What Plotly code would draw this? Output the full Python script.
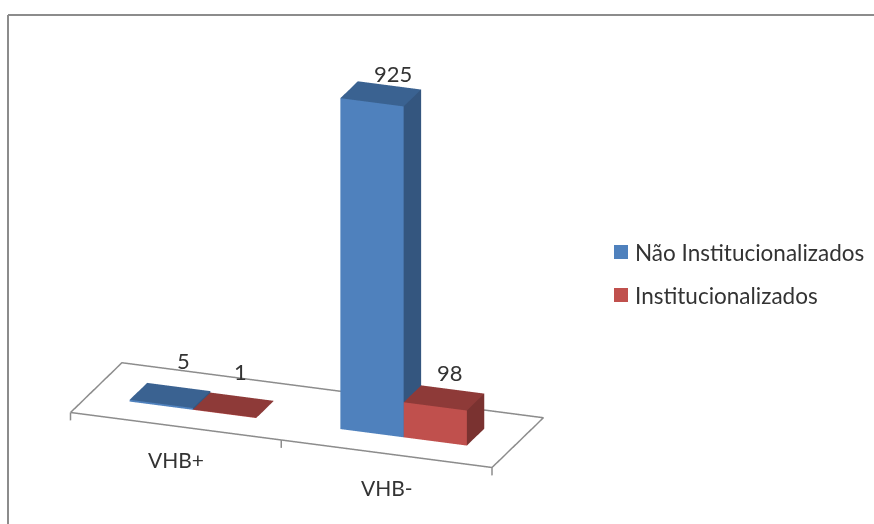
import plotly.graph_objects as go

# Chart data
categories = ["VHB+", "VHB-"]
series_names = ["Não Institucionalizados", "Institucionalizados"]
nao_institucionalizados = [5, 925]
institucionalizados = [1, 98]

# Face colours of each series: front, side, top
BLUE = ["#4F81BD", "#34567F", "#3A6291"]
RED = ["#C0504D", "#7A3230", "#8E3A38"]
GREY = "#8C8C8C"
TEXT = "#333333"
FONT = "Lato"

BAR_WIDTH = 0.3
MARGIN = 0.2
DEPTH = (0.33, 0.67)
TICK = -22
Z_TOP = 945

# Pixel nudges of the value labels, keyed by (category, series)
LABEL_NUDGE = {
    (0, 0): (13, 19),
    (0, 1): (7, 18),
    (1, 0): (12, 5),
    (1, 1): (6, 10),
}


def bar(x0, value, colors, name):
    """One 3D column with its front, side and top faces."""
    x1 = x0 + BAR_WIDTH
    y0, y1 = DEPTH
    xs = [x0, x1, x1, x0, x0, x1, x1, x0]
    ys = [y0, y0, y1, y1, y0, y0, y1, y1]
    zs = [0, 0, 0, 0, value, value, value, value]
    i = [0, 0, 1, 1, 4, 4]
    j = [1, 5, 2, 6, 5, 6]
    k = [5, 4, 6, 5, 6, 7]
    front, side, top = colors
    return go.Mesh3d(
        x=xs, y=ys, z=zs, i=i, j=j, k=k,
        facecolor=[front, front, side, side, top, top],
        flatshading=True,
        lighting=dict(ambient=1, diffuse=0, specular=0, roughness=1, fresnel=0),
        hoverinfo="skip", name=name, showscale=False,
    )


fig = go.Figure()

# Floor outline and category ticks
n = len(categories)
fig.add_trace(go.Scatter3d(
    x=[0, n, n, 0, 0], y=[0, 0, 1, 1, 0], z=[0] * 5,
    mode="lines", line=dict(color=GREY, width=3), hoverinfo="skip", showlegend=False,
))
for t in range(n + 1):
    fig.add_trace(go.Scatter3d(
        x=[t, t], y=[0, 0], z=[0, TICK],
        mode="lines", line=dict(color=GREY, width=3), hoverinfo="skip", showlegend=False,
    ))

annotations3d = []
for c, name in enumerate(categories):
    x_blue = c + MARGIN
    x_red = x_blue + BAR_WIDTH
    v_blue = nao_institucionalizados[c]
    v_red = institucionalizados[c]
    fig.add_trace(bar(x_blue, v_blue, BLUE, series_names[0]))
    fig.add_trace(bar(x_red, v_red, RED, series_names[1]))
    for s, (x, v) in enumerate(((x_blue, v_blue), (x_red, v_red))):
        dx, dy = LABEL_NUDGE[(c, s)]
        annotations3d.append(dict(
            x=x + BAR_WIDTH / 2, y=sum(DEPTH) / 2, z=v, text=str(v), showarrow=False,
            yanchor="bottom", xshift=dx, yshift=dy, font=dict(family=FONT, size=22, color=TEXT),
        ))
    annotations3d.append(dict(
        x=c + 0.5, y=0, z=0, text=name, showarrow=False,
        yanchor="top", yshift=-19, font=dict(family=FONT, size=21, color=TEXT),
    ))

hidden = dict(visible=False, showgrid=False, zeroline=False, showspikes=False)
fig.update_layout(
    width=874, height=524,
    margin=dict(l=0, r=0, t=0, b=0),
    paper_bgcolor="white",
    showlegend=False,
    scene=dict(
        domain=dict(x=[0, 614 / 874], y=[10 / 524, 1]),
        xaxis=dict(hidden, range=[0, n]),
        yaxis=dict(hidden, range=[0, 1]),
        zaxis=dict(hidden, range=[TICK, Z_TOP]),
        aspectmode="manual",
        aspectratio=dict(x=1.747, y=0.58, z=1.44),
        bgcolor="rgba(0,0,0,0)",
        camera=dict(
            eye=dict(x=0.424, y=-1.155, z=0.439),
            center=dict(x=0, y=0, z=-0.029),
            up=dict(x=0, y=0, z=1),
            projection=dict(type="orthographic"),
        ),
        annotations=annotations3d,
    ),
    shapes=[
        dict(type="line", xref="paper", yref="paper", x0=8 / 874, x1=1, y0=1 - 15 / 524, y1=1 - 15 / 524,
             line=dict(color=GREY, width=2)),
        dict(type="line", xref="paper", yref="paper", x0=8 / 874, x1=8 / 874, y0=0, y1=1 - 15 / 524,
             line=dict(color=GREY, width=2)),
        dict(type="rect", xref="paper", yref="paper", x0=614 / 874, x1=628 / 874,
             y0=1 - 259 / 524, y1=1 - 245 / 524, fillcolor=BLUE[0], line=dict(width=0)),
        dict(type="rect", xref="paper", yref="paper", x0=614 / 874, x1=628 / 874,
             y0=1 - 302 / 524, y1=1 - 288 / 524, fillcolor=RED[0], line=dict(width=0)),
    ],
    annotations=[
        dict(xref="paper", yref="paper", x=633 / 874, y=1 - 252 / 524, text=series_names[0], showarrow=False,
             xanchor="left", yanchor="middle", font=dict(family=FONT, size=22.5, color=TEXT)),
        dict(xref="paper", yref="paper", x=633 / 874, y=1 - 295 / 524, text=series_names[1], showarrow=False,
             xanchor="left", yanchor="middle", font=dict(family=FONT, size=22.5, color=TEXT)),
    ],
)

fig.write_html("out.html", config=dict(displayModeBar=False))
